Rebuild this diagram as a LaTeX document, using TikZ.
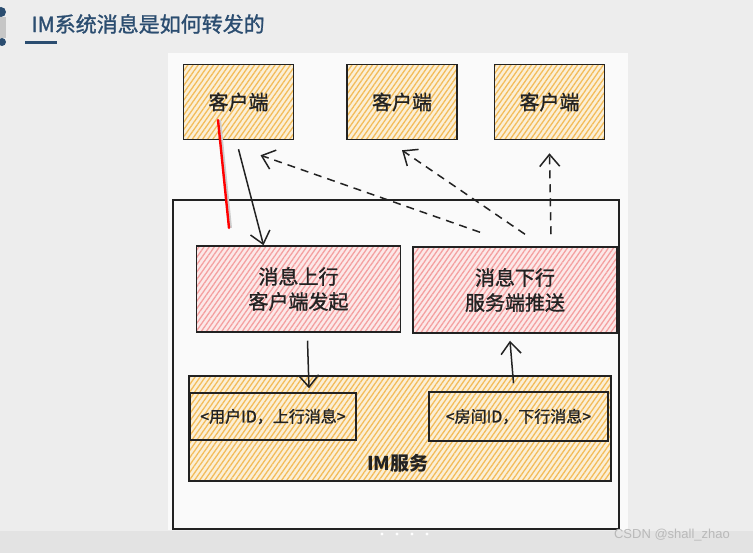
\documentclass[tikz,border=0pt]{standalone}
\usepackage{fontspec}
\newfontfamily\cjk{Noto Sans CJK SC}
\newfontfamily\cjkthick[FakeBold=1.2]{Noto Sans CJK SC}
\newfontfamily\wmfont{Liberation Sans}
\usetikzlibrary{arrows.meta,patterns.meta}

\definecolor{titleblue}{HTML}{2B4D70}
\definecolor{orangebg}{HTML}{FBEFD6}
\definecolor{orangeline}{HTML}{F3BC5A}
\definecolor{redbg}{HTML}{FCE8E8}
\definecolor{redline}{HTML}{F4A0A0}
\definecolor{slidebg}{HTML}{EDEDED}
\definecolor{barbg}{HTML}{E3E3E3}
\definecolor{canvas}{HTML}{FAFAFA}
\definecolor{ink}{HTML}{222222}

\tikzset{
	hatch/.style={preaction={fill=#1bg},
		pattern={Lines[angle=55,distance=4.2pt,line width=1.3pt]},
		pattern color=#1line, draw=ink, line width=1.5pt},
	client/.style={hatch=orange, minimum width=110pt, minimum height=75pt,
		font=\cjkthick\fontsize{20}{24}\selectfont, text=ink},
	msgbox/.style={hatch=red, minimum width=204pt, minimum height=86pt,
		align=center, font=\cjkthick\fontsize{20}{25}\selectfont, text=ink},
	tuple/.style={draw=ink, line width=1.5pt, font=\cjkthick\fontsize{16}{18}\selectfont, text=ink},
	flow/.style={draw=ink, line width=1.5pt, -{Straight Barb[length=12pt,width=20pt]}},
	push/.style={flow, dash pattern=on 8pt off 6pt}
}

\begin{document}
\begin{tikzpicture}[x=1pt, y=-1pt]
	\useasboundingbox (0,0) rectangle (753,553);

	\fill [slidebg] (0,0) rectangle (753,553);
	\fill [barbg] (0,531) rectangle (753,553);
	\fill [canvas] (168,53) rectangle (628,530);
	\fill [gray!45] (0,17) rectangle (6,38);
	\fill [titleblue] (1,12) circle (5);
	\fill [titleblue] (2,42) circle (4);

	\node [anchor=west, text=titleblue, font=\cjkthick\fontsize{21}{24}\selectfont] (title) at (28,24) {IM系统消息是如何转发的};
	\fill [titleblue] (25,41.5) rectangle (57,44);

	\node [draw=ink, line width=1.5pt, minimum width=446pt, minimum height=329pt] (server) at (396,364.5) {};

	\foreach \n/\x in {c1/238.5, c2/402, c3/549.5}
		\node [client] (\n) at (\x,102) {客户端};

	\node [msgbox] (up) at (298.5,289) {消息上行\\客户端发起};
	\node [msgbox] (down) at (515,290) {消息下行\\服务端推送};

	\node [hatch=orange, minimum width=422pt, minimum height=105pt] (im) at (400,428.5) {};
	\node [tuple, minimum width=166pt, minimum height=47pt] (uin) at (273,416.5) {<用户ID，上行消息>};
	\node [tuple, minimum width=179pt, minimum height=49pt] (rin) at (518.5,416.5) {<房间ID，下行消息>};
	\node [font=\cjk\bfseries\fontsize{19}{21}\selectfont, text=ink] (imtxt) at (398,463) {IM服务};

	\draw [flow] ([yshift=-9pt]c1.south) -- ([xshift=-35pt]up.north);
	\draw [flow] ([xshift=9pt,yshift=-8pt]up.south) -- ([xshift=36pt,yshift=4pt]uin.north);
	\draw [flow] ([xshift=-5pt,yshift=8pt]rin.north) -- ([xshift=-5pt,yshift=-7pt]down.south);

	\draw [push] ([xshift=-35pt,yshift=14pt]down.north) -- ([xshift=22pt,yshift=-15pt]c1.south);
	\draw [push] ([xshift=10pt,yshift=12pt]down.north) -- ([yshift=-10pt]c2.south);
	\draw [push] ([xshift=36pt,yshift=12pt]down.north) -- ([yshift=-13pt]c3.south);

	\coordinate (pena) at (218,120);
	\coordinate (penb) at (229,228);
	\draw [gray!40, line width=3pt] ([xshift=1.5pt]pena) -- ([xshift=1.5pt]penb);
	\draw [red, line width=2.4pt, line cap=round] (pena) -- (penb);

	\foreach \x in {382,397,412,427}
		\fill [white] (\x,534) circle (1.6);

	\node [text=gray!55, font=\wmfont\fontsize{13}{15}\selectfont] (mark) at (672,535) {CSDN @shall\_zhao};
\end{tikzpicture}
\end{document}
